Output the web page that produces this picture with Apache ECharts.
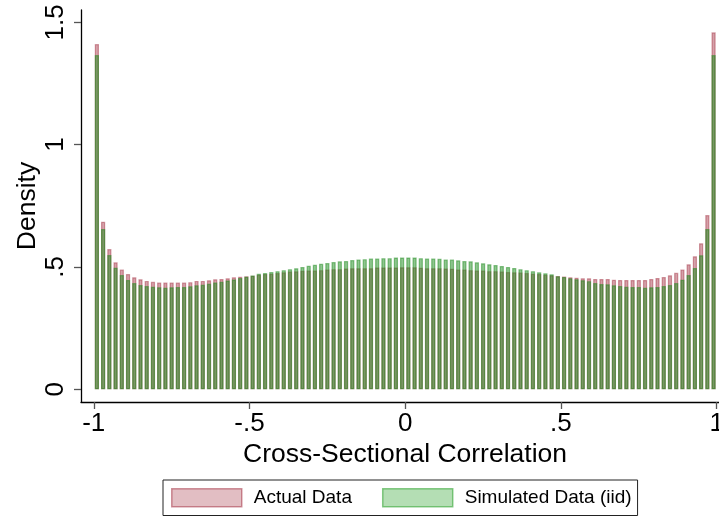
<!DOCTYPE html>
<html>
<head>
<meta charset="utf-8">
<script src="https://cdn.jsdelivr.net/npm/echarts@6/dist/echarts.min.js"></script>
<style>
  html, body { margin: 0; padding: 0; background: #fff; }
  #chart { width: 719px; height: 516px; }
</style>
</head>
<body>
<div id="chart"></div>
<script>
// Histogram of cross-sectional correlations: 100 bins of width 0.02 on [-1, 1]
const binStart = -1;
const binWidth = 0.02;

// Density per bin, actual data
const actualDensity = [
  1.411, 0.685, 0.573, 0.519, 0.490, 0.471, 0.458, 0.450, 0.443, 0.440,
  0.437, 0.437, 0.437, 0.437, 0.437, 0.438, 0.443, 0.443, 0.446, 0.450,
  0.451, 0.454, 0.458, 0.460, 0.462, 0.464, 0.468, 0.471, 0.472, 0.475,
  0.478, 0.481, 0.482, 0.485, 0.486, 0.486, 0.487, 0.490, 0.491, 0.491,
  0.494, 0.495, 0.495, 0.495, 0.495, 0.498, 0.498, 0.498, 0.498, 0.499,
  0.499, 0.499, 0.497, 0.495, 0.495, 0.495, 0.494, 0.493, 0.490, 0.490,
  0.487, 0.486, 0.486, 0.483, 0.483, 0.481, 0.479, 0.478, 0.477, 0.475,
  0.472, 0.471, 0.468, 0.466, 0.463, 0.461, 0.458, 0.456, 0.454, 0.454,
  0.451, 0.451, 0.451, 0.448, 0.447, 0.447, 0.447, 0.447, 0.447, 0.451,
  0.455, 0.459, 0.466, 0.476, 0.490, 0.511, 0.544, 0.597, 0.712, 1.459
];

// Density per bin, simulated iid data
const simulatedDensity = [
  1.366, 0.655, 0.549, 0.497, 0.467, 0.447, 0.434, 0.426, 0.422, 0.419,
  0.417, 0.415, 0.417, 0.418, 0.418, 0.421, 0.425, 0.427, 0.431, 0.437,
  0.440, 0.445, 0.449, 0.455, 0.460, 0.465, 0.472, 0.475, 0.479, 0.483,
  0.487, 0.491, 0.495, 0.500, 0.505, 0.509, 0.513, 0.516, 0.520, 0.523,
  0.524, 0.528, 0.531, 0.532, 0.535, 0.535, 0.536, 0.536, 0.539, 0.539,
  0.539, 0.539, 0.536, 0.535, 0.535, 0.534, 0.531, 0.531, 0.527, 0.524,
  0.523, 0.519, 0.515, 0.511, 0.508, 0.504, 0.500, 0.496, 0.491, 0.487,
  0.483, 0.478, 0.474, 0.470, 0.462, 0.459, 0.454, 0.450, 0.446, 0.442,
  0.434, 0.430, 0.429, 0.425, 0.422, 0.419, 0.418, 0.418, 0.415, 0.417,
  0.418, 0.422, 0.426, 0.434, 0.448, 0.467, 0.496, 0.548, 0.655, 1.366
];

// Axis ticks and their labels
const xTickValues = [-1, -0.5, 0, 0.5, 1];
const xTickLabels = ['-1', '-.5', '0', '.5', '1'];
const yTickValues = [0, 0.5, 1, 1.5];
const yTickLabels = ['0', '.5', '1', '1.5'];

const seriesNames = ['Actual Data', 'Simulated Data (iid)'];

const binCenters = actualDensity.map((_, i) => +(binStart + (i + 0.5) * binWidth).toFixed(3));
const pairs = vals => vals.map((v, i) => [binCenters[i], v]);

const FONT = '"Liberation Sans", Arial, sans-serif';
// translucent bar colours; overlapping parts blend to olive green
const pinkBar = 'rgba(150,20,40,0.40)';
const greenBar = 'rgba(30,140,30,0.50)';
// lighter swatches for the legend keys
const pinkKey = 'rgba(150,20,40,0.28)';
const pinkKeyEdge = 'rgba(150,20,40,0.45)';
const greenKey = 'rgba(40,160,40,0.35)';
const greenKeyEdge = 'rgba(40,160,40,0.55)';

const chart = echarts.init(document.getElementById('chart'), null, { renderer: 'canvas' });

chart.setOption({
  animation: false,
  backgroundColor: '#ffffff',
  grid: { left: 81, top: 10, width: 648, height: 392, containLabel: false, outerBoundsMode: 'none' },
  xAxis: {
    type: 'value',
    min: -1.041,
    max: 1.0395,
    name: 'Cross-Sectional Correlation',
    nameLocation: 'middle',
    nameGap: 39,
    nameMoveOverlap: false,
    nameTextStyle: { fontFamily: FONT, fontSize: 26.5, color: '#000', verticalAlign: 'top' },
    axisLine: { show: true, onZero: false, lineStyle: { color: '#000', width: 1.3 } },
    axisTick: { show: true, length: 7, customValues: xTickValues, lineStyle: { color: '#555', width: 1.3 } },
    axisLabel: {
      show: true,
      customValues: xTickValues,
      margin: 9,
      fontFamily: FONT,
      fontSize: 26,
      color: '#000',
      hideOverlap: false,
      formatter: v => xTickLabels[xTickValues.indexOf(v)]
    },
    splitLine: { show: false }
  },
  yAxis: {
    type: 'value',
    min: -0.0519,
    max: 1.5503,
    name: 'Density',
    nameLocation: 'middle',
    nameGap: 40,
    nameMoveOverlap: false,
    nameRotate: 90,
    nameTextStyle: { fontFamily: FONT, fontSize: 26.5, color: '#000' },
    axisLine: { show: true, onZero: false, lineStyle: { color: '#000', width: 1.3 } },
    axisTick: { show: true, length: 7, customValues: yTickValues, lineStyle: { color: '#555', width: 1.3 } },
    axisLabel: {
      show: true,
      customValues: yTickValues,
      rotate: 90,
      margin: 12,
      fontFamily: FONT,
      fontSize: 26,
      color: '#000',
      formatter: v => yTickLabels[yTickValues.indexOf(v)]
    },
    splitLine: { show: false }
  },
  legend: {
    left: 163,
    top: 480,
    orient: 'horizontal',
    itemWidth: 70,
    itemHeight: 18,
    itemGap: 30,
    padding: [8, 6, 8, 8],
    borderColor: '#222',
    borderWidth: 1,
    icon: 'rect',
    textStyle: { fontFamily: FONT, fontSize: 19, color: '#000', padding: [0, 0, 0, 7] },
    data: [
      { name: seriesNames[0], itemStyle: { color: pinkKey, borderColor: pinkKeyEdge, borderWidth: 1.5 } },
      { name: seriesNames[1], itemStyle: { color: greenKey, borderColor: greenKeyEdge, borderWidth: 1.5 } }
    ]
  },
  series: [
    {
      name: seriesNames[0],
      type: 'bar',
      data: pairs(actualDensity),
      barWidth: 4.2,
      barGap: '-100%',
      itemStyle: { color: pinkBar, borderColor: pinkBar, borderWidth: 1.2 },
      emphasis: { disabled: true }
    },
    {
      name: seriesNames[1],
      type: 'bar',
      data: pairs(simulatedDensity),
      barWidth: 4.2,
      barGap: '-100%',
      itemStyle: { color: greenBar, borderColor: greenBar, borderWidth: 1.2 },
      emphasis: { disabled: true }
    }
  ]
});
</script>
</body>
</html>
